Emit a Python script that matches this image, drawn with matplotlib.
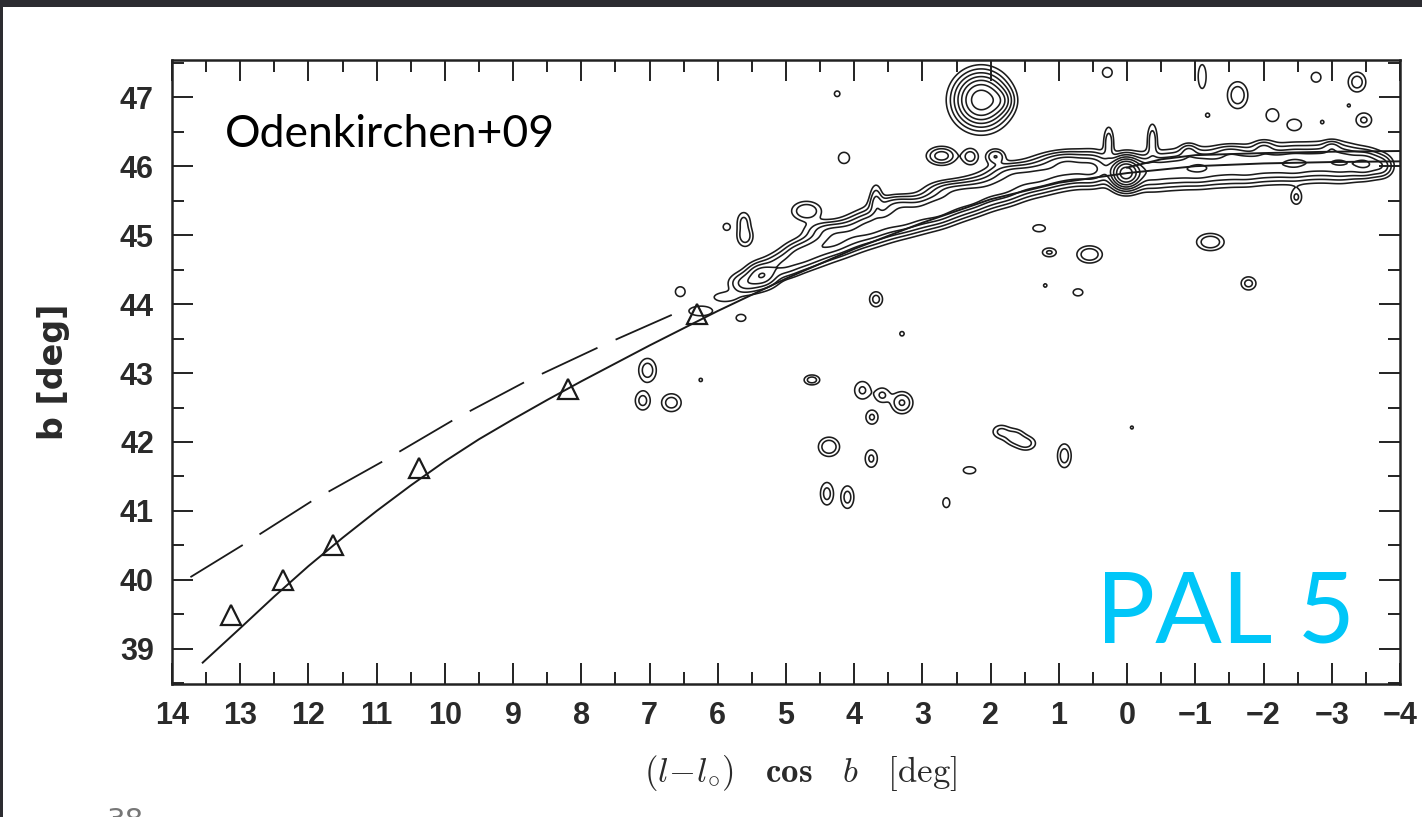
import numpy as np
import matplotlib
matplotlib.use('Agg')
import matplotlib.pyplot as plt
from matplotlib.ticker import MultipleLocator
from matplotlib.patches import Rectangle

plt.rcParams['mathtext.fontset'] = 'cm'

# --- data (deg) ---
# model orbit (solid line)
orbit_x = [13.55, 13.0, 12.5, 12.0, 11.5, 11.0, 10.5, 10.0, 9.5, 9.0, 8.5, 8.0, 7.0, 6.0,
           5.0, 4.0, 3.0, 2.0, 1.0, 0.0, -1.0, -2.0, -3.0, -4.0]
orbit_y = [38.80, 39.30, 39.76, 40.20, 40.61, 41.00, 41.37, 41.72, 42.04, 42.33, 42.61,
           42.88, 43.40, 43.90, 44.37, 44.80, 45.18, 45.52, 45.76, 45.90, 46.00, 46.04,
           46.06, 46.07]

# trailing track (second solid line, right side)
trail_x = [0.0, -0.5, -1.0, -2.0, -3.0, -4.0]
trail_y = [45.98, 46.10, 46.16, 46.19, 46.21, 46.22]

# dashed model
dash_x = [13.73, 12.94, 11.94, 10.89, 9.84, 8.79, 7.69, 6.59]
dash_y = [40.04, 40.52, 41.15, 41.73, 42.34, 42.89, 43.40, 43.88]

# triangles
tri_x = [13.13, 12.38, 11.64, 10.38, 8.20, 6.30]
tri_y = [39.49, 40.00, 40.50, 41.62, 42.77, 43.86]

# stream knots of the density map: x, y, amplitude, sigma_x, sigma_y
knot_x = [6.25, 5.90, 5.60, 5.35, 5.05, 4.80, 4.55, 4.30, 4.05, 3.80, 3.68, 3.55,
          3.30, 3.05, 2.80, 2.55, 2.30, 2.05, 1.80, 1.55, 1.30, 1.05, 0.80, 0.50,
          4.40, 3.40, 2.60, 1.70, 0.95,
          0.02,
          -0.35, -0.70, -1.05, -1.40, -1.75, -2.10, -2.45, -2.80, -3.15, -3.50, -3.75,
          0.27, -0.37, -0.90, -2.48, -2.00, -3.00, -1.50]
knot_y = [43.90, 44.10, 44.30, 44.42, 44.56, 44.70, 44.80, 44.90, 45.00, 45.10, 45.50, 45.17,
          45.25, 45.30, 45.38, 45.46, 45.55, 45.63, 45.70, 45.78, 45.85, 45.90, 45.95, 45.96,
          45.08, 45.45, 45.66, 45.92, 46.08,
          45.90,
          45.92, 45.95, 45.97, 45.98, 46.00, 46.03, 46.04, 46.06, 46.05, 46.03, 46.00,
          46.35, 46.38, 46.22, 45.55, 46.27, 46.28, 46.20]
knot_a = [0.35, 0.30, 0.70, 1.30, 0.80, 1.00, 0.90, 1.10, 0.90, 1.20, 0.55, 1.00,
          1.30, 1.00, 1.40, 1.10, 1.30, 1.00, 1.20, 0.90, 1.10, 0.90, 1.00, 1.40,
          0.50, 0.50, 0.55, 0.50, 0.50,
          4.50,
          1.10, 1.00, 1.20, 0.90, 1.10, 1.00, 1.20, 1.00, 1.20, 1.30, 0.60,
          0.50, 0.50, 0.45, 0.40, 0.40, 0.40, 0.40]
knot_sx = [0.15, 0.15, 0.15, 0.14, 0.16, 0.16, 0.16, 0.16, 0.16, 0.16, 0.06, 0.16,
           0.16, 0.16, 0.16, 0.16, 0.16, 0.16, 0.16, 0.16, 0.16, 0.16, 0.16, 0.16,
           0.20, 0.20, 0.20, 0.20, 0.20,
           0.13,
           0.18, 0.18, 0.18, 0.18, 0.18, 0.18, 0.18, 0.18, 0.18, 0.15, 0.10,
           0.05, 0.05, 0.08, 0.06, 0.10, 0.08, 0.15]
knot_sy = [0.06, 0.06, 0.10, 0.11, 0.11, 0.12, 0.13, 0.13, 0.14, 0.14, 0.15, 0.14,
           0.14, 0.14, 0.14, 0.14, 0.14, 0.14, 0.14, 0.14, 0.14, 0.14, 0.14, 0.14,
           0.08, 0.08, 0.08, 0.08, 0.08,
           0.13,
           0.15, 0.15, 0.15, 0.15, 0.15, 0.15, 0.15, 0.15, 0.15, 0.12, 0.10,
           0.15, 0.16, 0.07, 0.08, 0.07, 0.06, 0.07]

# isolated field blobs: x, y, amplitude, sigma_x, sigma_y
blob_x = [2.14, 1.85, 2.72, 2.30, 1.93, 4.15, 4.70, 5.60, 5.62, 5.87, 1.14, 0.55,
          -1.22, -1.78, 1.20, 0.72, 3.68, 3.30, 5.66, 6.55, 6.25, 7.03, 7.10, 6.68,
          4.62, 3.88, 3.59, 3.30, 3.74, 4.37, 3.75, 4.40, 4.10, 2.31, 2.65, 1.85,
          1.65, 1.48, 0.92, -0.07, -1.62, 0.29, -1.10, -3.37, -2.77, -2.13, -2.45,
          -2.86, -3.47, -1.18, -3.25, 1.29, 4.25]
blob_y = [46.96, 46.95, 46.15, 46.14, 46.14, 46.12, 45.35, 44.98, 45.20, 45.12, 44.75, 44.72,
          44.90, 44.30, 44.27, 44.17, 44.07, 43.57, 43.80, 44.18, 42.90, 43.04, 42.60, 42.57,
          42.90, 42.75, 42.68, 42.57, 42.36, 41.93, 41.76, 41.25, 41.20, 41.59, 41.12, 42.15,
          42.07, 41.98, 41.80, 42.21, 47.03, 47.36, 47.30, 47.22, 47.29, 46.74, 46.60,
          46.64, 46.67, 46.74, 46.88, 45.10, 47.05]
blob_a = [3.50, 0.60, 0.80, 0.50, 0.60, 0.35, 0.60, 0.50, 0.40, 0.30, 0.40, 0.60,
          0.60, 0.45, 0.22, 0.30, 0.45, 0.25, 0.30, 0.30, 0.22, 0.50, 0.45, 0.50,
          0.50, 0.40, 0.40, 0.65, 0.40, 0.60, 0.40, 0.45, 0.45, 0.30, 0.30, 0.40,
          0.50, 0.45, 0.50, 0.21, 0.55, 0.30, 0.35, 0.50, 0.30, 0.35, 0.35,
          0.22, 0.40, 0.24, 0.21, 0.30, 0.25]
blob_sx = [0.21, 0.11, 0.13, 0.08, 0.09, 0.07, 0.14, 0.08, 0.07, 0.05, 0.08, 0.12,
           0.13, 0.08, 0.04, 0.07, 0.07, 0.04, 0.07, 0.07, 0.04, 0.09, 0.08, 0.10,
           0.08, 0.09, 0.08, 0.10, 0.07, 0.10, 0.07, 0.07, 0.07, 0.09, 0.05, 0.09,
           0.10, 0.10, 0.07, 0.04, 0.10, 0.07, 0.05, 0.09, 0.07, 0.08, 0.09,
           0.04, 0.09, 0.04, 0.04, 0.09, 0.05]
blob_sy = [0.21, 0.11, 0.08, 0.08, 0.07, 0.07, 0.09, 0.10, 0.10, 0.05, 0.05, 0.08,
           0.08, 0.07, 0.04, 0.05, 0.08, 0.04, 0.05, 0.07, 0.04, 0.12, 0.10, 0.09,
           0.05, 0.10, 0.08, 0.10, 0.08, 0.09, 0.10, 0.12, 0.12, 0.05, 0.07, 0.07,
           0.08, 0.07, 0.12, 0.04, 0.13, 0.07, 0.15, 0.10, 0.07, 0.08, 0.07,
           0.04, 0.08, 0.04, 0.04, 0.05, 0.05]

contour_levels = [0.18, 0.35, 0.6, 0.95, 1.4, 2.0, 2.8, 3.8]

xticks = list(range(14, -5, -1))
yticks = list(range(39, 48))


def density(X, Y, xs, ys, amps, sxs, sys_):
    Z = np.zeros_like(X)
    for x0, y0, a, sx, sy in zip(xs, ys, amps, sxs, sys_):
        Z += a * np.exp(-0.5 * (((X - x0) / sx) ** 2 + ((Y - y0) / sy) ** 2))
    return Z


gx = np.linspace(-4.2, 14.2, 1100)
gy = np.linspace(38.3, 47.7, 600)
GX, GY = np.meshgrid(gx, gy)
Z = density(GX, GY, knot_x, knot_y, knot_a, knot_sx, knot_sy)
Z += density(GX, GY, blob_x, blob_y, blob_a, blob_sx, blob_sy)

fig = plt.figure(figsize=(14.22, 8.17), dpi=100, facecolor='#2c2c31')
# white page of the slide
fig.patches.append(Rectangle((3 / 1422, 0), 1, 1 - 7 / 817, transform=fig.transFigure,
                             facecolor='white', edgecolor='none', zorder=-10))

ax = fig.add_axes([172 / 1422, 1 - 684 / 817, 1228 / 1422, 624 / 817])
ax.set_zorder(5)
ax.set_facecolor('white')

ax.contour(GX, GY, Z, levels=contour_levels, colors='#1c1c1c', linewidths=1.15)

ax.plot(orbit_x, orbit_y, color='#1a1a1a', lw=1.4)
ax.plot(trail_x, trail_y, color='#1a1a1a', lw=1.4)
dl, = ax.plot(dash_x, dash_y, color='#1a1a1a', lw=1.3)
dl.set_dashes([34, 11])
ax.plot(tri_x, tri_y, ls='none', marker='^', ms=15, mfc='none', mec='#1a1a1a', mew=1.6)

ax.set_xlim(14, -4)
ax.set_ylim(38.49, 47.54)
ax.set_xticks(xticks)
ax.set_yticks(yticks)
ax.xaxis.set_minor_locator(MultipleLocator(0.5))
ax.yaxis.set_minor_locator(MultipleLocator(0.5))
ax.tick_params(which='both', direction='in', top=True, right=True, width=1.4, color='#222222')
ax.tick_params(which='major', length=15)
ax.tick_params(which='minor', length=8.5)
ax.tick_params(axis='both', labelsize=22, labelcolor='#2a2a2a')
ax.tick_params(axis='x', pad=12)
ax.tick_params(axis='y', pad=13)
for lab in ax.get_xticklabels() + ax.get_yticklabels():
    lab.set_family('Liberation Sans')
    lab.set_fontweight('bold')
for s in ax.spines.values():
    s.set_linewidth(1.8)
    s.set_color('#222222')

ax.set_xlabel(r'$(l\!-\!l_{\circ})\ \ \ \mathbf{cos}\ \ \ b\ \ \ [\mathrm{deg}]$', fontsize=25,
              color='#2a2a2a')
ax.xaxis.set_label_coords(0.512, -0.110)
ax.xaxis.label.set_va('top')
ax.set_ylabel('b [deg]', fontsize=24, fontweight='bold', color='#2a2a2a')
ax.yaxis.set_label_coords(-0.083, 0.5)

ax.text(0.0432, 0.8606, 'Odenkirchen+09', transform=ax.transAxes, fontsize=32,
        family='Lato', color='black', va='baseline', ha='left')
ax.text(0.9635, 0.0673, 'PAL 5', transform=ax.transAxes, fontsize=71,
        family='Lato', color='#00c6f8', va='baseline', ha='right')

fig.text(125 / 1422, 0.012, '38', fontsize=21, color='#777777', ha='center', va='top')

fig.savefig('out.png', dpi=100, facecolor=fig.get_facecolor())
